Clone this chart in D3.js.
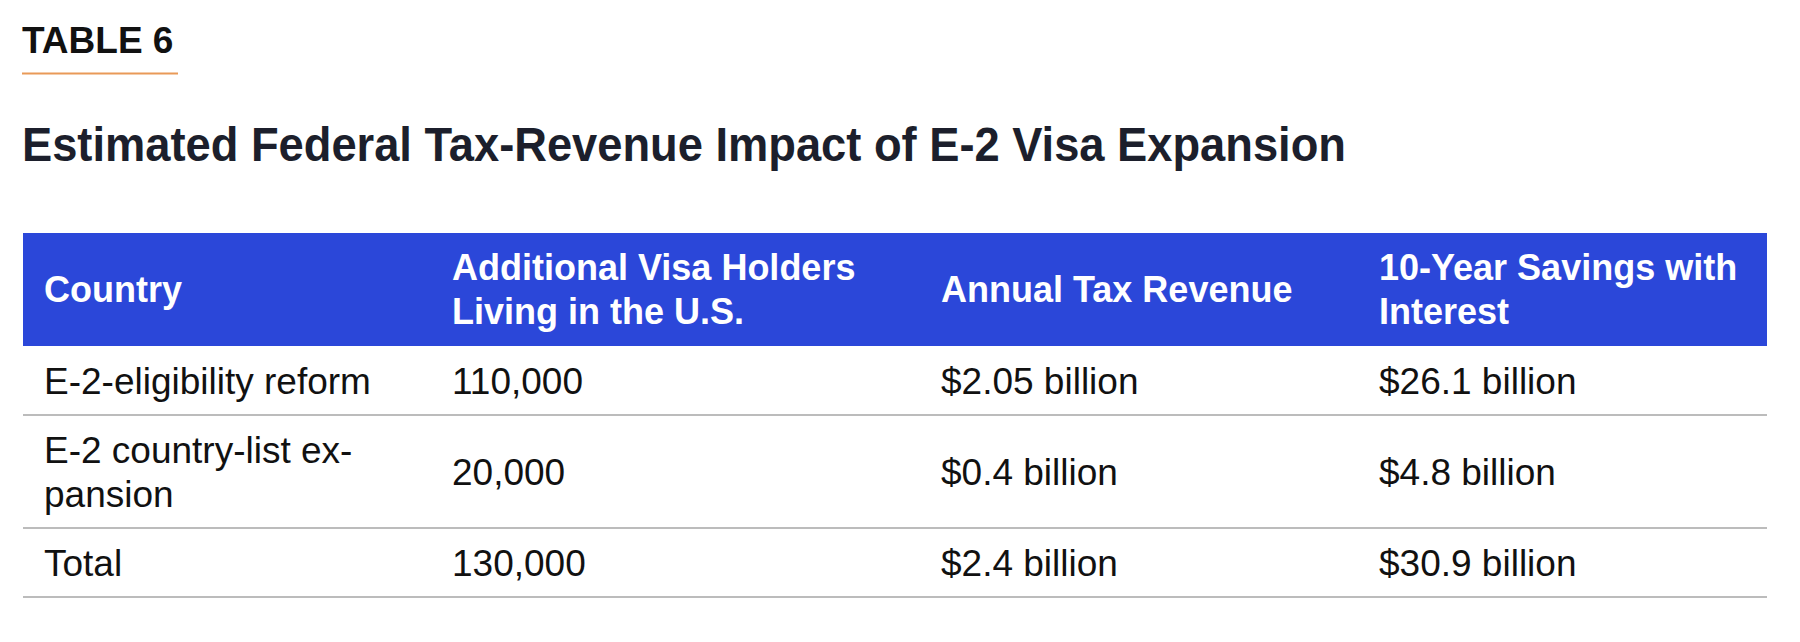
<!DOCTYPE html>
<html>
<head>
<meta charset="utf-8">
<script src="https://cdn.jsdelivr.net/npm/d3@7"></script>
<style>
  html, body { margin: 0; padding: 0; background: #ffffff; }
  svg { display: block; }
</style>
</head>
<body>
<div id="chart"></div>
<script>
// ---- data ----
const tableLabel = "TABLE 6";
const title = "Estimated Federal Tax-Revenue Impact of E-2 Visa Expansion";
const headers = [
  ["Country"],
  ["Additional Visa Holders", "Living in the U.S."],
  ["Annual Tax Revenue"],
  ["10-Year Savings with", "Interest"]
];
const countries = [
  ["E-2-eligibility reform"],
  ["E-2 country-list ex-", "pansion"],
  ["Total"]
];
const visaHolders = [110000, 20000, 130000];
const annualRevenue = [2.05, 0.4, 2.4];     // $ billion
const tenYearSavings = [26.1, 4.8, 30.9];   // $ billion

// ---- layout ----
const W = 1800, H = 642;
const tableLeft = 23, tableRight = 1767;
const colStarts = [23, 431, 920, 1358];
const padX = 21, padY = 12.5, lineH = 44;
const bodySize = 37, headSize = 36;
const headerTop = 233;

const fmtNum = d3.format(",");
const fmtBil = v => "$" + v + " billion";

const rows = countries.map((c, i) => [
  c,
  [fmtNum(visaHolders[i])],
  [fmtBil(annualRevenue[i])],
  [fmtBil(tenYearSavings[i])]
]);

const colX = d3.scaleOrdinal().domain(d3.range(headers.length)).range(colStarts);

const svg = d3.select("#chart").append("svg")
  .attr("width", W).attr("height", H)
  .attr("viewBox", `0 0 ${W} ${H}`);

svg.append("rect").attr("width", W).attr("height", H).attr("fill", "#ffffff");

// kicker
svg.append("text")
  .attr("x", 22).attr("y", 52.7)
  .attr("font-family", "'Liberation Sans', Arial, sans-serif")
  .attr("font-weight", 700).attr("font-size", 37)
  .attr("fill", "#111111")
  .text(tableLabel);

svg.append("line")
  .attr("x1", 22).attr("x2", 178)
  .attr("y1", 73.5).attr("y2", 73.5)
  .attr("stroke", "#e99a58").attr("stroke-width", 2);

// title
svg.append("text")
  .attr("x", 22).attr("y", 161)
  .attr("font-family", "'Liberation Sans', Arial, sans-serif")
  .attr("font-weight", 700).attr("font-size", 48)
  .attr("fill", "#1c1f2c")
  .attr("textLength", 1324).attr("lengthAdjust", "spacingAndGlyphs")
  .text(title);

// row geometry
const rowHeight = lines => padY * 2 + lines * lineH;
const headerH = rowHeight(d3.max(headers, h => h.length));
const bodyHeights = rows.map(r => rowHeight(d3.max(r, c => c.length)));
const bodyTops = [];
let acc = headerTop + headerH;
bodyHeights.forEach(h => { bodyTops.push(acc); acc += h; });

// header
svg.append("rect")
  .attr("x", tableLeft).attr("y", headerTop)
  .attr("width", tableRight - tableLeft).attr("height", headerH)
  .attr("fill", "#2b47d9");

function drawCell(g, lines, x, top, height, size, weight, color) {
  const mid = top + height / 2;
  const n = lines.length;
  lines.forEach((t, k) => {
    const lc = mid + (k - (n - 1) / 2) * lineH;
    g.append("text")
      .attr("x", x).attr("y", lc + size * 0.36)
      .attr("font-family", "'Liberation Sans', Arial, sans-serif")
      .attr("font-weight", weight).attr("font-size", size)
      .attr("fill", color)
      .text(t);
  });
}

const gHead = svg.append("g");
headers.forEach((h, j) => drawCell(gHead, h, colX(j) + padX, headerTop, headerH, headSize, 700, "#ffffff"));

const gBody = svg.append("g");
rows.forEach((r, i) => {
  r.forEach((cell, j) => drawCell(gBody, cell, colX(j) + padX, bodyTops[i], bodyHeights[i], bodySize, 400, "#111111"));
  gBody.append("line")
    .attr("x1", tableLeft).attr("x2", tableRight)
    .attr("y1", bodyTops[i] + bodyHeights[i]).attr("y2", bodyTops[i] + bodyHeights[i])
    .attr("stroke", "#bcbcbc").attr("stroke-width", 2);
});
</script>
</body>
</html>
